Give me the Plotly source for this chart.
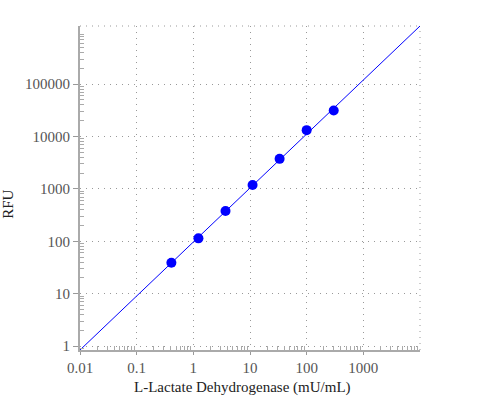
import plotly.graph_objects as go
import numpy as np

# data
conc = [0.41, 1.23, 3.7, 11.1, 33.3, 100, 300]
rfu = [39, 114, 380, 1190, 3740, 13200, 31400]
fit_x = [0.01, 10000]
fit_y = [0.846, 1.28e6]

x_ticks = [0.01, 0.1, 1, 10, 100, 1000]
x_labels = ["0.01", "0.1", "1", "10", "100", "1000"]
y_ticks = [1, 10, 100, 1000, 10000, 100000]
y_labels = ["1", "10", "100", "1000", "10000", "100000"]
x_title = "L-Lactate Dehydrogenase (mU/mL)"
y_title = "RFU"

x_minor = [m * 10 ** e for e in range(-2, 4) for m in range(2, 10)]
y_minor = [m * 10 ** e for e in range(-1, 6) for m in range(2, 10)]

FONT = "'Liberation Serif', 'Times New Roman', Times, serif"

fig = go.Figure()
fig.add_trace(go.Scatter(x=fit_x, y=fit_y, mode="lines",
                         line=dict(color="#0000ff", width=1), showlegend=False,
                         hoverinfo="skip"))
fig.add_trace(go.Scatter(x=conc, y=rfu, mode="markers",
                         marker=dict(color="#0000ff", size=10), showlegend=False))

grid = dict(gridcolor="#999999", griddash="1px,5px", gridwidth=1)
fig.update_xaxes(type="log", range=[np.log10(fit_x[0]), np.log10(fit_x[1])],
                 tickvals=x_ticks, ticktext=x_labels,
                 ticks="outside", ticklen=3, tickcolor="#999999",
                 showline=True, linecolor="#aaaaaa", linewidth=2,
                 zeroline=False,
                 minor=dict(tickvals=x_minor, ticks="inside", ticklen=4,
                            tickcolor="#aaaaaa", showgrid=False),
                 tickfont=dict(family=FONT, size=15, color="#555555"),
                 **grid)
fig.update_yaxes(type="log", range=[np.log10(fit_y[0]), np.log10(fit_y[1])],
                 tickvals=y_ticks, ticktext=y_labels,
                 ticks="outside", ticklen=5, tickcolor="#999999",
                 showline=True, linecolor="#aaaaaa", linewidth=2,
                 zeroline=False,
                 minor=dict(tickvals=y_minor, ticks="inside", ticklen=4,
                            tickcolor="#aaaaaa", showgrid=False),
                 tickfont=dict(family=FONT, size=15, color="#555555"),
                 **grid)

fig.add_annotation(text=x_title, xref="paper", yref="paper", x=0.478, y=-0.115,
                   xanchor="center", yanchor="middle", showarrow=False,
                   font=dict(family=FONT, size=15, color="#222222"))
fig.add_annotation(text=y_title, xref="paper", yref="paper", x=-0.210, y=0.45,
                   xanchor="center", yanchor="middle", showarrow=False, textangle=-90,
                   font=dict(family=FONT, size=15, color="#222222"))

# dotted frame on top and right
fig.add_shape(type="line", xref="paper", yref="paper", x0=0, x1=1, y0=1, y1=1,
              line=dict(color="#999999", width=1, dash="1px,5px"), layer="below")
fig.add_shape(type="line", xref="paper", yref="paper", x0=1, x1=1, y0=0, y1=1,
              line=dict(color="#999999", width=1, dash="1px,5px"), layer="below")

fig.update_layout(width=500, height=400,
                  font=dict(family=FONT),
                  margin=dict(l=80, r=80, t=26, b=50, autoexpand=False),
                  plot_bgcolor="white", paper_bgcolor="white")
fig.write_html("out.html")
